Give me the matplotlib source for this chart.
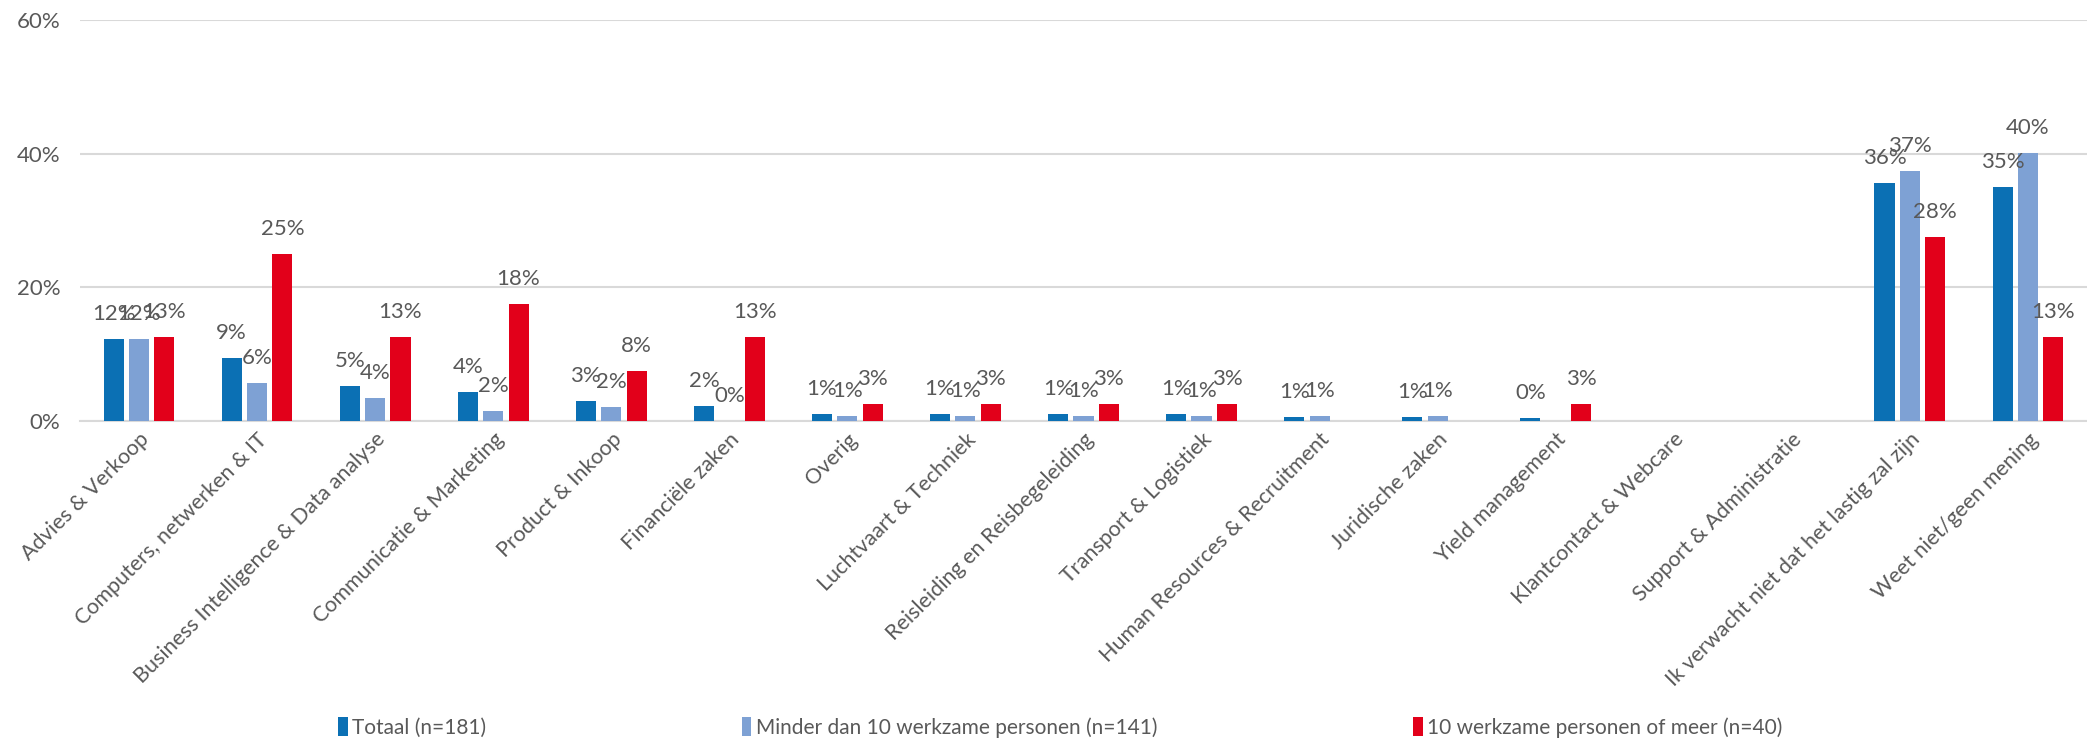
import numpy as np
import matplotlib
matplotlib.use("Agg")
import matplotlib.pyplot as plt

categories = [
    "Advies & Verkoop",
    "Computers, netwerken & IT",
    "Business Intelligence & Data analyse",
    "Communicatie & Marketing",
    "Product & Inkoop",
    "Financiële zaken",
    "Overig",
    "Luchtvaart & Techniek",
    "Reisleiding en Reisbegeleiding",
    "Transport & Logistiek",
    "Human Resources & Recruitment",
    "Juridische zaken",
    "Yield management",
    "Klantcontact & Webcare",
    "Support & Administratie",
    "Ik verwacht niet dat het lastig zal zijn",
    "Weet niet/geen mening",
]

nan = np.nan
totaal = [12.3, 9.4, 5.2, 4.4, 3.0, 2.2, 1.1, 1.1, 1.1, 1.1, 0.6, 0.6, 0.4, nan, nan, 35.6, 35.0]
minder = [12.2, 5.7, 3.5, 1.5, 2.1, 0.0, 0.7, 0.7, 0.7, 0.7, 0.7, 0.7, nan, nan, nan, 37.4, 40.1]
meer = [12.5, 25.0, 12.5, 17.5, 7.5, 12.5, 2.5, 2.5, 2.5, 2.5, nan, nan, 2.5, nan, nan, 27.5, 12.5]

series = [
    ("Totaal (n=181)", totaal, "#0b70b4"),
    ("Minder dan 10 werkzame personen (n=141)", minder, "#7ea1d4"),
    ("10 werkzame personen of meer (n=40)", meer, "#e2001a"),
]

plt.rcParams['font.family'] = ['Lato', 'DejaVu Sans']
text_color = "#595959"
grid_color = "#d9d9d9"

fig = plt.figure(figsize=(20.87, 7.46), dpi=100)
ax = fig.add_axes([0.0383, 0.4357, 0.9617, 0.5373])

x = np.arange(len(categories))
width = 0.17
step = 0.215

for i, (name, vals, color) in enumerate(series):
    vals = np.array(vals, dtype=float)
    pos = x + (i - 1) * step
    ax.bar(pos, vals, width=width, color=color, label=name, zorder=3)
    for p, v in zip(pos, vals):
        if np.isnan(v):
            continue
        ax.annotate(f"{int(np.floor(v + 0.5))}%", (p, v), xytext=(0, 18),
                    textcoords="offset points", ha="center", va="center",
                    fontsize=16, color=text_color, zorder=4)

ax.set_xlim(-0.5, len(categories) - 0.5)
ax.set_ylim(0, 60)
ax.set_yticks([0, 20, 40, 60])
ax.set_yticklabels(["0%", "20%", "40%", "60%"])
ax.yaxis.grid(True, color=grid_color, linewidth=1.5, zorder=0)
ax.set_axisbelow(True)
for s in ["top", "right", "left"]:
    ax.spines[s].set_visible(False)
ax.spines["bottom"].set_color(grid_color)
ax.spines["bottom"].set_linewidth(1.5)
ax.tick_params(axis="y", length=0, pad=14, labelsize=16, labelcolor=text_color)
ax.tick_params(axis="x", length=0, pad=6, labelsize=15.5, labelcolor=text_color)
ax.set_xticks(x)
ax.set_xticklabels(categories, rotation=45, ha="right", rotation_mode="anchor")

fig.legend(loc="lower center", bbox_to_anchor=(0.508, -0.014), ncol=3, frameon=False,
           fontsize=15, labelcolor=text_color, handlelength=0.45, handleheight=1.0,
           handletextpad=0.2, columnspacing=12.3)

fig.savefig("out.png", dpi=100)
